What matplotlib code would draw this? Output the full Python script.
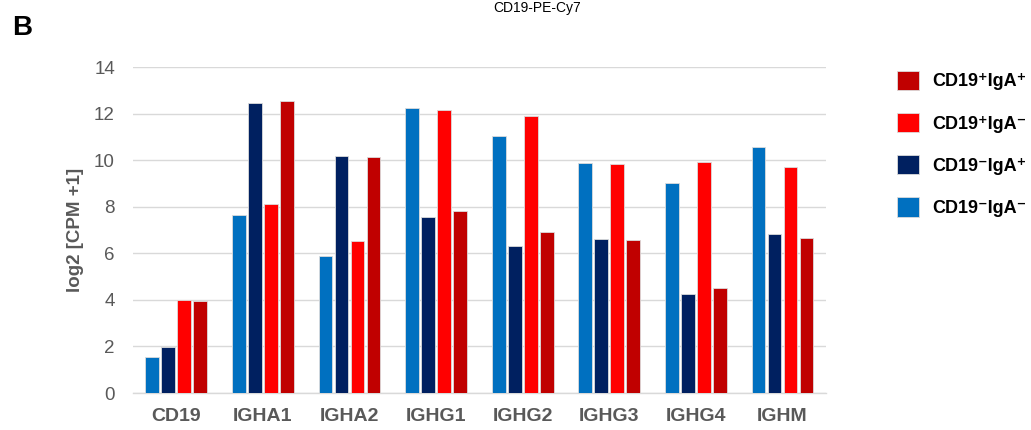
import matplotlib
matplotlib.use("Agg")
import matplotlib.pyplot as plt
import numpy as np

plt.rcParams['font.family'] = ['Liberation Sans', 'DejaVu Sans']

categories = ['CD19', 'IGHA1', 'IGHA2', 'IGHG1', 'IGHG2', 'IGHG3', 'IGHG4', 'IGHM']
series_names = ['CD19\u207bIgA\u207b', 'CD19\u207bIgA\u207a',
                'CD19\u207aIgA\u207b', 'CD19\u207aIgA\u207a']
neg_neg = [1.55, 7.64, 5.88, 12.23, 11.03, 9.87, 9.01, 10.56]
neg_pos = [1.97, 12.45, 10.20, 7.55, 6.31, 6.61, 4.25, 6.82]
pos_neg = [3.99, 8.10, 6.52, 12.15, 11.89, 9.83, 9.91, 9.70]
pos_pos = [3.97, 12.53, 10.13, 7.81, 6.91, 6.57, 4.50, 6.65]
series_values = [neg_neg, neg_pos, pos_neg, pos_pos]
colors = ['#0070C0', '#002060', '#FF0000', '#C00000']
yticks = [0, 2, 4, 6, 8, 10, 12, 14]

fig = plt.figure(figsize=(10.31, 4.30), dpi=100)
ax = fig.add_axes([0.129, 0.086, 0.672, 0.758])

x = np.arange(len(categories))
width = 0.16
pitch = 0.185
handles = []
for i, (vals, c, name) in enumerate(zip(series_values, colors, series_names)):
    b = ax.bar(x + (i - 1.5) * pitch, vals, width, color=c, edgecolor='#dcdcdc',
               linewidth=0.6, label=name, zorder=3)
    handles.append(b)

ax.set_xlim(-0.5, len(categories) - 0.5)
ax.set_ylim(0, 14)
ax.set_yticks(yticks)
ax.set_yticklabels([str(t) for t in yticks])
ax.set_xticks(x)
ax.set_xticklabels(categories, fontweight='bold', fontsize=14)
ax.tick_params(axis='both', length=0, colors='#595959')
ax.tick_params(axis='y', labelsize=13.5, pad=13)
ax.tick_params(axis='x', pad=11)
ax.yaxis.grid(True, color='#d9d9d9', linewidth=1, zorder=0)
for s in ['top', 'right', 'left']:
    ax.spines[s].set_visible(False)
ax.spines['bottom'].set_color('#d9d9d9')
ax.spines['bottom'].set_linewidth(1)
ax.set_ylabel('log2 [CPM +1]', fontsize=13.5, fontweight='bold', color='#595959', labelpad=7)

leg = fig.legend(handles[::-1], series_names[::-1], loc='upper left',
                 bbox_to_anchor=(0.854, 0.873), frameon=False,
                 prop={'size': 13, 'weight': 'bold'},
                 handlelength=1.25, handleheight=1.25, labelspacing=1.25,
                 handletextpad=0.7)

fig.text(0.012, 0.905, 'B', fontsize=20, fontweight='bold', ha='left', va='bottom')
fig.text(0.521, 0.998, 'CD19-PE-Cy7', fontsize=10, ha='center', va='top')

fig.savefig('out.png', dpi=100)
